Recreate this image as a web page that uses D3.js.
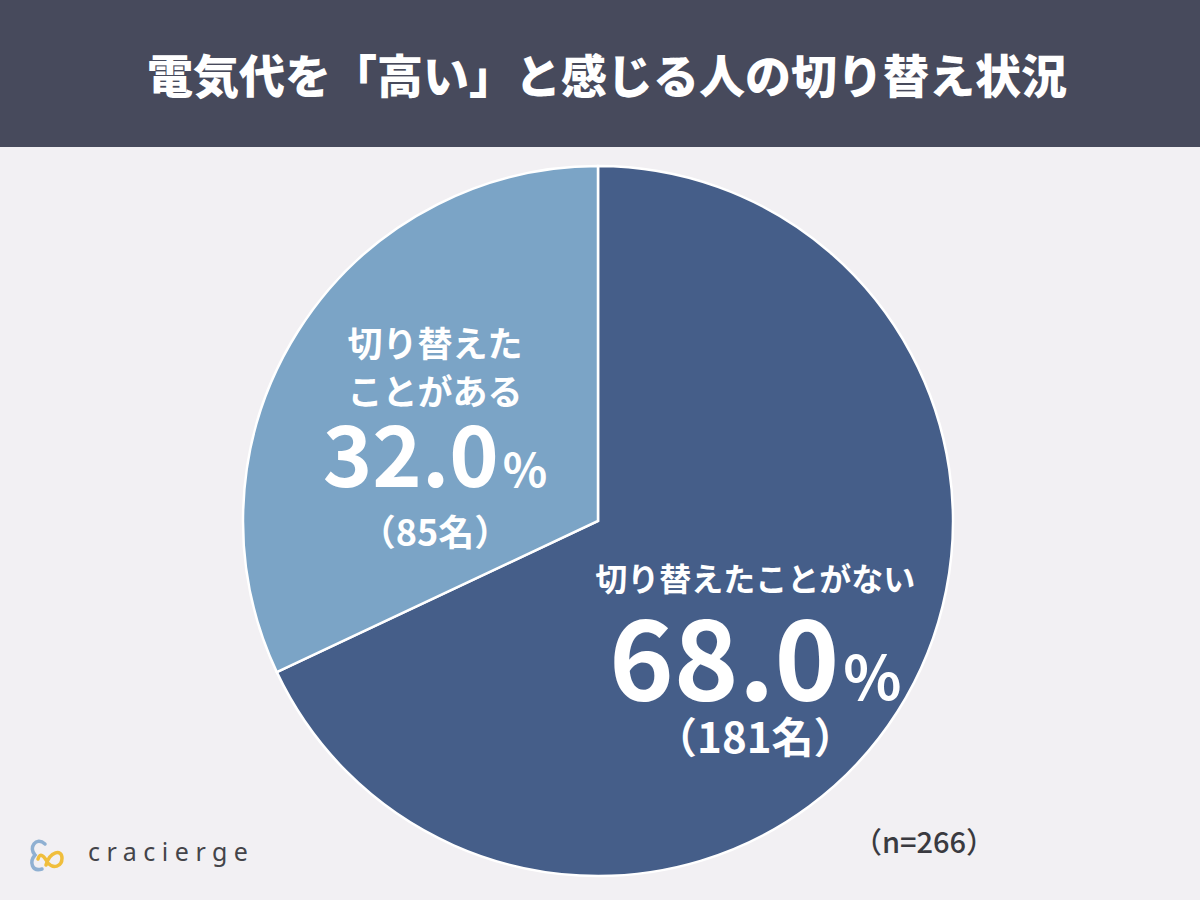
<!DOCTYPE html>
<html>
<head>
<meta charset="utf-8">
<script src="https://cdn.jsdelivr.net/npm/d3@7"></script>
<style>
  html, body { margin: 0; padding: 0; background: #f2f0f3; }
  svg { display: block; font-family: "Noto Sans CJK JP", "Noto Sans", sans-serif; }
</style>
</head>
<body>
<div id="chart"></div>
<script>
// chart data
const categories = ["切り替えたことがない", "切り替えたことがある"];
const labelLines = [["切り替えたことがない"], ["切り替えた", "ことがある"]];
const percents = [68.0, 32.0];
const counts = [181, 85];
const total = 266;
const colors = ["#455e89", "#7ba4c6"];

const width = 1200;
const height = 900;

const svg = d3.select("#chart")
  .append("svg")
  .attr("width", width)
  .attr("height", height);

// background + header bar
svg.append("rect").attr("width", width).attr("height", height).attr("fill", "#f2f0f3");
svg.append("rect").attr("width", width).attr("height", 147).attr("fill", "#474a5c");

svg.append("text")
  .attr("x", 607)
  .attr("y", 93)
  .attr("text-anchor", "middle")
  .attr("fill", "#ffffff")
  .attr("font-size", 46)
  .attr("font-weight", 900)
  .text("電気代を「高い」と感じる人の切り替え状況");

// pie
const cx = 598, cy = 521, radius = 355;
const g = svg.append("g").attr("transform", `translate(${cx},${cy})`);

const pie = d3.pie().sort(null).value(d => d.pct);
const arc = d3.arc().innerRadius(0).outerRadius(radius);

const data = categories.map((c, i) => ({ cat: c, pct: percents[i], n: counts[i], lines: labelLines[i], color: colors[i] }));
const arcs = pie(data);

g.selectAll("path.slice")
  .data(arcs)
  .enter().append("path")
  .attr("class", "slice")
  .attr("d", arc)
  .attr("fill", d => d.data.color)
  .attr("stroke", "#ffffff")
  .attr("stroke-width", 2.5);

// label layout per slice: anchor (angle deg clockwise from top, distance), font sizes, baselines
const labelLayout = [
  { angle: 131.5, dist: 210, nameSize: 32, lineY: [-69], pctSize: 110, pctY: 40, cntSize: 42, cntY: 93 },
  { angle: 290.5, dist: 174, nameSize: 35, lineY: [-103, -55], pctSize: 84, pctY: 27, cntSize: 36, cntY: 86 }
];

arcs.forEach((d, i) => {
  const L = labelLayout[i];
  const a = L.angle * Math.PI / 180;
  const x = Math.sin(a) * L.dist;
  const y = -Math.cos(a) * L.dist;
  const lbl = g.append("g").attr("transform", `translate(${x},${y})`).attr("fill", "#ffffff").attr("text-anchor", "middle");

  d.data.lines.forEach((ln, k) => {
    lbl.append("text")
      .attr("y", L.lineY[k])
      .attr("font-size", L.nameSize)
      .attr("font-weight", 700)
      .text(ln);
  });
  const t = lbl.append("text")
    .attr("y", L.pctY)
    .attr("font-size", L.pctSize)
    .attr("font-weight", 700);
  t.append("tspan").text(d.data.pct.toFixed(1));
  t.append("tspan").attr("font-size", L.pctSize * 0.55).attr("dx", 4).text("%");

  lbl.append("text")
    .attr("y", L.cntY)
    .attr("font-size", L.cntSize)
    .attr("font-weight", 700)
    .text(`（${d.data.n}名）`);
});

// sample size note
svg.append("text")
  .attr("x", 924)
  .attr("y", 853)
  .attr("text-anchor", "middle")
  .attr("fill", "#3a3a40")
  .attr("font-size", 29)
  .attr("font-weight", 500)
  .text(`（n=${total}）`);

// logo
const logo = svg.append("g").attr("transform", "translate(28,836)");
logo.append("path")
  .attr("d", "M17,8 C8,0 0,12 7,19 C1,26 4,36 14,33")
  .attr("fill", "none").attr("stroke", "#8fb0d2").attr("stroke-width", 3.5).attr("stroke-linecap", "round");
logo.append("path")
  .attr("d", "M18,29 C22,15 34,13 34,22 C34,31 25,33 20,27 C16,20 12,16 10,23")
  .attr("fill", "none").attr("stroke", "#f0be3c").attr("stroke-width", 3.5).attr("stroke-linecap", "round");
svg.append("text")
  .attr("x", 88)
  .attr("y", 861)
  .attr("fill", "#444449")
  .attr("font-family", "'Noto Sans', sans-serif")
  .attr("font-size", 25)
  .attr("letter-spacing", 6.5)
  .text("cracierge");
</script>
</body>
</html>
